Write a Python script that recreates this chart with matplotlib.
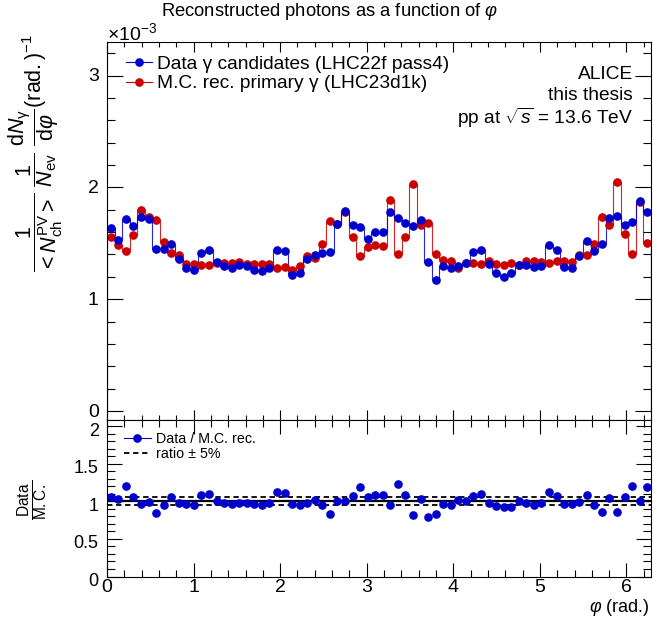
import matplotlib
matplotlib.use("Agg")
import matplotlib.pyplot as plt
import numpy as np
from matplotlib.lines import Line2D
from matplotlib.ticker import MultipleLocator, FormatStrFormatter
from matplotlib.transforms import ScaledTranslation

plt.rcParams["font.family"] = ["Liberation Sans", "DejaVu Sans"]
plt.rcParams["mathtext.fontset"] = "custom"
plt.rcParams["mathtext.rm"] = "Liberation Sans"
plt.rcParams["mathtext.it"] = "Liberation Sans:italic"
plt.rcParams["mathtext.bf"] = "Liberation Sans:bold"

# 72 bins of 5 degrees in phi
n_bins = 72
phi_edges = np.linspace(0.0, 2 * np.pi, n_bins + 1)

# per-bin yields, in units of 1e-3
data_vals = [
    1.639, 1.531, 1.713, 1.654, 1.737, 1.713, 1.445, 1.448, 1.493, 1.358,
    1.278, 1.257, 1.412, 1.439, 1.334, 1.293, 1.281, 1.304, 1.293, 1.263,
    1.251, 1.281, 1.439, 1.430, 1.215, 1.236, 1.358, 1.391, 1.415, 1.421,
    1.669, 1.791, 1.663, 1.648, 1.537, 1.600, 1.600, 1.782, 1.725, 1.681,
    1.654, 1.704, 1.337, 1.170, 1.299, 1.281, 1.301, 1.322, 1.421, 1.439,
    1.319, 1.230, 1.203, 1.230, 1.307, 1.307, 1.284, 1.301, 1.487, 1.439,
    1.287, 1.281, 1.388, 1.519, 1.427, 1.490, 1.728, 1.743, 1.663, 1.687,
    1.875, 1.776,
]
mc_vals = [
    1.558, 1.487, 1.430, 1.570, 1.797, 1.737, 1.710, 1.516, 1.409, 1.394,
    1.319, 1.319, 1.310, 1.310, 1.328, 1.328, 1.322, 1.334, 1.316, 1.313,
    1.319, 1.316, 1.281, 1.290, 1.263, 1.296, 1.382, 1.367, 1.496, 1.699,
    1.669, 1.776, 1.555, 1.382, 1.463, 1.484, 1.475, 1.887, 1.406, 1.555,
    2.027, 1.663, 1.678, 1.406, 1.352, 1.346, 1.278, 1.322, 1.322, 1.319,
    1.346, 1.316, 1.304, 1.325, 1.310, 1.340, 1.346, 1.337, 1.328, 1.343,
    1.340, 1.331, 1.394, 1.394, 1.496, 1.731, 1.666, 2.045, 1.582, 1.400,
    1.866, 1.501,
]

blue = "#0000cc"
red = "#cc0000"

data = np.array(data_vals)
mc = np.array(mc_vals)
ratio = data / mc
centers = 0.5 * (phi_edges[:-1] + phi_edges[1:])

W, H = 653, 618
fig = plt.figure(figsize=(W / 100, H / 100), dpi=100)
x0, x1 = 107, 651
ax = fig.add_axes([x0 / W, 1 - 420 / H, (x1 - x0) / W, (420 - 42) / H])
axr = fig.add_axes([x0 / W, 1 - 576.5 / H, (x1 - x0) / W, (576.5 - 420) / H])

ms = 5.2
lw = 0.8
ax.stairs(mc, phi_edges, color=red, lw=lw, alpha=0.85)
ax.plot(centers, mc, "o", color=red, ms=ms, mec=red)
ax.stairs(data, phi_edges, color=blue, lw=lw, alpha=0.85)
ax.plot(centers, data, "o", color=blue, ms=ms, mec=blue)

ax.set_xlim(0, 2 * np.pi)
ax.set_ylim(-0.08, 3.30)
ax.yaxis.set_major_locator(MultipleLocator(1))
ax.yaxis.set_minor_locator(MultipleLocator(0.2))
ax.xaxis.set_major_locator(MultipleLocator(1))
ax.xaxis.set_minor_locator(MultipleLocator(0.2))
ax.tick_params(which="both", direction="in", top=True, right=True,
               labelsize=14, width=0.8)
ax.tick_params(axis="y", which="major", length=11.5, pad=6)
ax.tick_params(axis="y", which="minor", length=5.8)
ax.tick_params(axis="x", which="major", length=7)
ax.tick_params(axis="x", which="minor", length=3.5)
ax.tick_params(axis="x", labelbottom=False)
for s in ax.spines.values():
    s.set_linewidth(0.8)

handles = [
    Line2D([], [], color=blue, marker="o", ms=ms, lw=lw),
    Line2D([], [], color=red, marker="o", ms=ms, lw=lw),
]
ax.legend(handles, ["Data \u03b3 candidates (LHC22f pass4)",
                    "M.C. rec. primary \u03b3 (LHC23d1k)"],
          loc="upper left", bbox_to_anchor=(0.02, 0.985), frameon=False,
          fontsize=13.8, handlelength=1.4, handletextpad=0.25,
          labelspacing=0.12, borderaxespad=0.0)

ax.text(0.967, 0.915, "ALICE", transform=ax.transAxes, ha="right",
        va="center", fontsize=13.8)
ax.text(0.967, 0.858, "this thesis", transform=ax.transAxes, ha="right",
        va="center", fontsize=13.8)
ax.text(0.967, 0.80, r"pp at $\sqrt{s}$ = 13.6 TeV", transform=ax.transAxes,
        ha="right", va="center", fontsize=13.8)

fig.text(x0 / W, 1 - 44 / H, r"$\times$10$^{-3}$", ha="left", va="bottom",
         fontsize=14)
fig.text(330 / W, 1 - 12 / H, r"Reconstructed photons as a function of $\varphi$",
         ha="center", va="center", fontsize=13.2)
fig.text(36 / W, 1 - 34 / H,
         r"$\dfrac{1}{{<}N_{\mathrm{ch}}^{\mathrm{PV}}{>}}\ \dfrac{1}{N_{\mathrm{ev}}}"
         r"\ \dfrac{\mathrm{d}N_{\mathrm{\gamma}}}{\mathrm{d}\varphi}(\mathrm{rad.})^{-1}$",
         rotation=90, ha="center", va="top", fontsize=15.5)

# ratio panel
axr.axhline(1.0, color="k", lw=1.6)
axr.axhline(1.05, color="k", lw=1.3, ls=(0, (3, 2)))
axr.axhline(0.95, color="k", lw=1.3, ls=(0, (3, 2)))
axr.plot(centers, ratio, "o", color=blue, ms=ms)
axr.set_xlim(0, 2 * np.pi)
axr.set_ylim(0, 2.08)
axr.yaxis.set_major_locator(MultipleLocator(0.5))
axr.yaxis.set_minor_locator(MultipleLocator(0.1))
axr.yaxis.set_major_formatter(FormatStrFormatter("%g"))
axr.xaxis.set_major_locator(MultipleLocator(1))
axr.xaxis.set_minor_locator(MultipleLocator(0.2))
axr.tick_params(which="both", direction="in", top=True, right=True,
                labelsize=14, width=0.8)
axr.tick_params(axis="y", labelsize=13)
axr.tick_params(axis="y", which="major", length=11, pad=6)
axr.tick_params(axis="y", which="minor", length=5.5)
axr.tick_params(axis="x", which="major", length=10, pad=2)
axr.tick_params(axis="x", which="minor", length=5)
for s in axr.spines.values():
    s.set_linewidth(0.8)

# nudge the tick labels apart where the two panels meet
down = ScaledTranslation(0, -3 / 100, fig.dpi_scale_trans)
for lab in axr.get_yticklabels():
    lab.set_transform(lab.get_transform() + down)
up = ScaledTranslation(0, 1 / 100, fig.dpi_scale_trans)
for lab in ax.get_yticklabels():
    lab.set_transform(lab.get_transform() + up)

rh = [
    Line2D([], [], color=blue, marker="o", ms=ms, lw=lw),
    Line2D([], [], color="k", lw=1.3, ls=(0, (3, 2))),
]
axr.legend(rh, ["Data / M.C. rec.", "ratio \u00b1 5%"], loc="upper left",
           bbox_to_anchor=(0.02, 0.96), frameon=False, fontsize=10.3,
           handlelength=1.9, handletextpad=0.35, labelspacing=0.1,
           borderaxespad=0.0)

fig.text(33 / W, 1 - 500 / H, r"$\frac{\mathrm{Data}}{\mathrm{M.C.}}$",
         rotation=90, ha="center", va="center", fontsize=16)
fig.text(650 / W, 1 - 608 / H, r"$\varphi$ (rad.)", ha="right", va="center",
         fontsize=13)

fig.savefig("out.png", dpi=100)
